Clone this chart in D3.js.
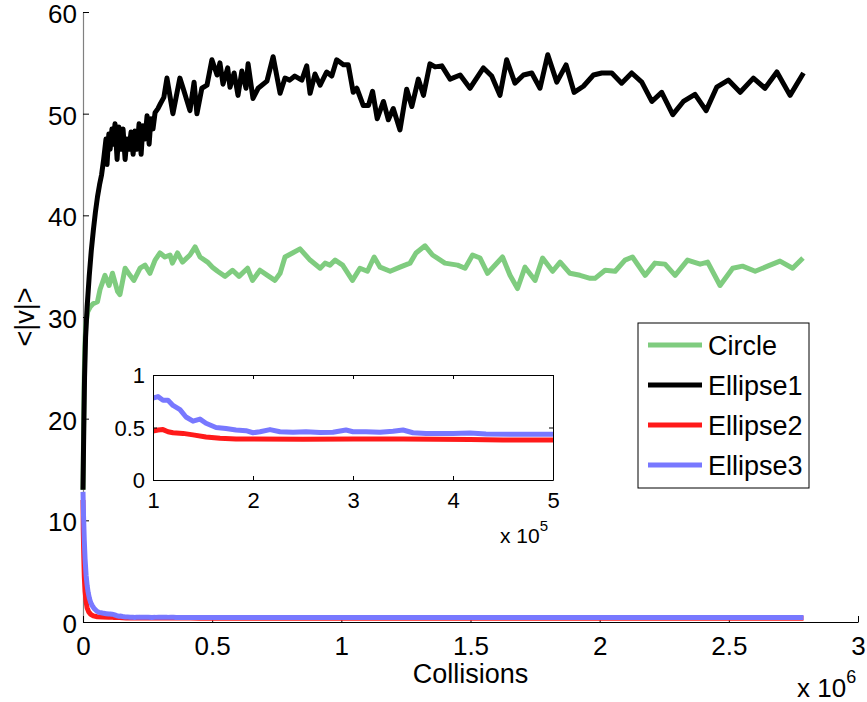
<!DOCTYPE html>
<html>
<head>
<meta charset="utf-8">
<script src="https://cdnjs.cloudflare.com/ajax/libs/d3/7.8.5/d3.min.js"></script>
<style>
  body { margin: 0; background: #fff; }
  text { font-family: "Liberation Sans", Arial, sans-serif; fill: #000; }
</style>
</head>
<body>
<svg id="chart" width="867" height="702"></svg>
<script>
// collisions are in units of 10^6, values are <|v|>
const seriesNames = ["Circle", "Ellipse1", "Ellipse2", "Ellipse3"];
const seriesColors = ["#7fcc7f", "#000000", "#ff1a1a", "#7878ff"];

const circleX = [0, 0.002, 0.004, 0.007, 0.011, 0.018, 0.028, 0.039, 0.056, 0.066,
  0.085, 0.101, 0.114, 0.134, 0.143, 0.163, 0.182, 0.197, 0.221, 0.24,
  0.259, 0.279, 0.298, 0.317, 0.337, 0.346, 0.366, 0.385, 0.414, 0.434,
  0.453, 0.482, 0.501, 0.521, 0.55, 0.579, 0.604, 0.637, 0.656, 0.685,
  0.714, 0.743, 0.763, 0.782, 0.811, 0.84, 0.879, 0.918, 0.937, 0.956,
  0.976, 1.005, 1.043, 1.072, 1.101, 1.127, 1.15, 1.189, 1.227, 1.266,
  1.289, 1.324, 1.353, 1.401, 1.45, 1.479, 1.508, 1.537, 1.566, 1.624,
  1.653, 1.682, 1.711, 1.75, 1.779, 1.818, 1.847, 1.885, 1.924, 1.963,
  1.982, 2.021, 2.06, 2.098, 2.127, 2.176, 2.214, 2.253, 2.292, 2.34,
  2.389, 2.418, 2.466, 2.515, 2.553, 2.602, 2.65, 2.698, 2.747, 2.787];
const circleV = [13, 18, 23, 27, 29.3, 30.5, 31, 31.3, 31.5, 32.7,
  34.1, 33.1, 34.3, 32.5, 32.2, 34.8, 34.1, 33.6, 34.8, 35.1,
  34.3, 35.6, 36.3, 35.9, 36.1, 35.3, 36.3, 35.4, 36.1, 36.9,
  35.9, 35.4, 34.9, 34.5, 34, 34.6, 34, 34.8, 33.6, 34.6,
  34.1, 33.6, 34.3, 35.9, 36.3, 36.7, 35.6, 34.8, 35.3, 35.1,
  35.6, 35.1, 33.6, 34.8, 34.5, 35.9, 34.9, 34.5, 34.9, 35.3,
  36.3, 37, 36.1, 35.3, 35.1, 34.8, 36.1, 35.8, 34.3, 35.9,
  34.1, 32.8, 34.9, 33.6, 35.8, 34.5, 35.4, 34.3, 34.1, 33.8,
  33.8, 34.6, 34.5, 35.6, 35.9, 34.1, 35.3, 35.2, 34.1, 35.6,
  35.2, 35.4, 33.1, 34.8, 35, 34.5, 35, 35.5, 34.8, 35.8];

const ellipse1X = [0, 0.003, 0.006, 0.01, 0.016, 0.024, 0.032, 0.04, 0.048, 0.056,
  0.064, 0.072, 0.08, 0.089, 0.093, 0.1, 0.105, 0.112, 0.116, 0.124,
  0.132, 0.139, 0.147, 0.155, 0.163, 0.17, 0.178, 0.186, 0.194, 0.201,
  0.209, 0.217, 0.225, 0.232, 0.24, 0.248, 0.256, 0.263, 0.271, 0.279,
  0.29, 0.3, 0.313, 0.325, 0.348, 0.375, 0.39, 0.414, 0.43, 0.441,
  0.46, 0.48, 0.499, 0.519, 0.53, 0.542, 0.56, 0.569, 0.585, 0.6,
  0.615, 0.631, 0.639, 0.658, 0.678, 0.712, 0.736, 0.763, 0.782, 0.8,
  0.82, 0.847, 0.866, 0.879, 0.898, 0.918, 0.943, 0.963, 0.982, 1.008,
  1.027, 1.046, 1.06, 1.085, 1.105, 1.121, 1.139, 1.163, 1.182, 1.201,
  1.227, 1.253, 1.273, 1.298, 1.318, 1.343, 1.363, 1.389, 1.421, 1.46,
  1.498, 1.55, 1.582, 1.614, 1.64, 1.672, 1.705, 1.737, 1.769, 1.799,
  1.834, 1.87, 1.901, 1.937, 1.976, 2.008, 2.047, 2.085, 2.124, 2.163,
  2.202, 2.24, 2.283, 2.324, 2.369, 2.412, 2.453, 2.498, 2.544, 2.595,
  2.64, 2.686, 2.737, 2.789];
const ellipse1V = [13, 19, 24, 28, 31, 34, 36.5, 38.5, 40.3, 41.8,
  43, 44, 45.5, 47.5, 45, 48, 46.5, 48.5, 47, 49,
  45.5, 48.7, 46.5, 48.5, 45.5, 47.5, 46.5, 48.2, 46, 48.3,
  46.5, 49, 46, 48.8, 47.5, 49.8, 47, 49.5, 48.5, 50.1,
  50.5, 51, 51.6, 53.5, 50, 53.5, 52.3, 50.3, 53.1, 50,
  52.5, 52.8, 55.3, 53.8, 55, 52.9, 54.5, 52.6, 54, 51.8,
  54.2, 52.5, 54.9, 51.5, 52.5, 53.2, 55.6, 52, 53.5, 53.3,
  53.7, 53.3, 54.7, 52, 53.9, 52.8, 54.1, 53.7, 55.3, 54.8,
  54.8, 52.1, 52.5, 50.8, 50.8, 52.2, 49.5, 51.2, 49.4, 50.5,
  48.4, 52.4, 50.7, 53.4, 51.8, 54.9, 54.6, 54.7, 53.4, 53.8,
  52.5, 54.5, 53.7, 51.8, 55.3, 53, 53.8, 54, 52.5, 55.8,
  53.1, 54.8, 52.1, 52.7, 53.8, 54, 54, 53, 54, 53.1,
  51.2, 52.1, 49.9, 51.2, 51.9, 50.3, 52.6, 53.3, 52.1, 53.5,
  52.5, 54.1, 51.8, 54];

const ellipse2X = [0, 0.001, 0.003, 0.005, 0.008, 0.012, 0.016, 0.022, 0.03, 0.04,
  0.055, 0.075, 0.1, 0.105, 0.11, 0.115, 0.12, 0.13, 0.14, 0.153,
  0.167, 0.183, 0.2, 0.25, 0.3, 0.35, 0.417, 0.45, 0.5, 0.8,
  1.2, 1.6, 2.0, 2.4, 2.789];
const ellipse2V = [12, 9, 6.5, 4.5, 3, 2, 1.4, 1.0, 0.75, 0.6,
  0.52, 0.49, 0.467, 0.476, 0.48, 0.46, 0.45, 0.444, 0.43, 0.41,
  0.397, 0.39, 0.39, 0.388, 0.39, 0.39, 0.385, 0.38, 0.38, 0.38,
  0.38, 0.38, 0.38, 0.38, 0.38];

const ellipse3X = [0, 0.002, 0.005, 0.008, 0.012, 0.016, 0.02, 0.025, 0.03, 0.036,
  0.044, 0.052, 0.062, 0.075, 0.09, 0.1, 0.105, 0.11, 0.115, 0.12,
  0.127, 0.133, 0.14, 0.147, 0.153, 0.163, 0.173, 0.183, 0.193, 0.2,
  0.207, 0.217, 0.227, 0.24, 0.253, 0.267, 0.28, 0.293, 0.3, 0.313,
  0.327, 0.34, 0.35, 0.36, 0.373, 0.4, 0.417, 0.433, 0.467, 0.5,
  0.7, 1.0, 1.4, 1.8, 2.2, 2.6, 2.789];
const ellipse3V = [12.8, 10.5, 8, 6.2, 4.6, 3.6, 2.9, 2.3, 1.9, 1.6,
  1.3, 1.1, 0.95, 0.88, 0.82, 0.78, 0.794, 0.76, 0.76, 0.71,
  0.67, 0.6, 0.56, 0.58, 0.54, 0.5, 0.49, 0.476, 0.47, 0.45,
  0.46, 0.48, 0.46, 0.455, 0.46, 0.452, 0.455, 0.476, 0.46, 0.46,
  0.455, 0.465, 0.476, 0.45, 0.444, 0.444, 0.447, 0.438, 0.436, 0.435,
  0.44, 0.44, 0.44, 0.45, 0.44, 0.44, 0.44];

const xTicks = [0, 0.5, 1, 1.5, 2, 2.5, 3];
const yTicks = [0, 10, 20, 30, 40, 50, 60];
const insetXTicks = [0.1, 0.2, 0.3, 0.4, 0.5];
const insetYTicks = [0, 0.5, 1];

const series = [
  {xs: circleX, vs: circleV},
  {xs: ellipse1X, vs: ellipse1V},
  {xs: ellipse2X, vs: ellipse2V},
  {xs: ellipse3X, vs: ellipse3V}
].map((s, i) => ({name: seriesNames[i], color: seriesColors[i], points: d3.zip(s.xs, s.vs)}));

const margin = {top: 12, right: 9, bottom: 80, left: 83};
const svg = d3.select("#chart");
const width = +svg.attr("width") - margin.left - margin.right;
const height = +svg.attr("height") - margin.top - margin.bottom;
const g = svg.append("g").attr("transform", `translate(${margin.left},${margin.top})`);

const x = d3.scaleLinear().domain([0, 3]).range([0, width]);
const y = d3.scaleLinear().domain([0, 60]).range([height, 0]);

// axes (MATLAB style, ticks inside)
const yAxis = g.append("g")
  .call(d3.axisLeft(y).tickValues(yTicks).tickSizeInner(-6).tickSizeOuter(0).tickPadding(6));
yAxis.select(".domain").attr("stroke", "#808080").attr("stroke-width", 1.2);
yAxis.selectAll("text").style("font-size", "26px").attr("dy", "0.4em");

const xAxis = g.append("g")
  .attr("transform", `translate(0,${height})`)
  .call(d3.axisBottom(x).tickValues(xTicks).tickSizeInner(-6).tickSizeOuter(0).tickPadding(15)
    .tickFormat(d3.format("")));
xAxis.selectAll("text").style("font-size", "26px");

g.append("text")
  .attr("x", width / 2).attr("y", 671)
  .attr("text-anchor", "middle")
  .style("font-size", "27px")
  .text("Collisions");

const xExp = g.append("text")
  .attr("x", 714).attr("y", 685)
  .style("font-size", "26px");
xExp.append("tspan").text("x 10");
xExp.append("tspan").attr("dy", -14).style("font-size", "18px").text("6");

g.append("text")
  .attr("transform", `translate(${34 - margin.left},${317 - margin.top}) rotate(-90)`)
  .attr("text-anchor", "middle")
  .style("font-size", "27px")
  .text("<|v|>");

const line = d3.line().x(d => x(d[0])).y(d => y(d[1]));

g.selectAll(".series")
  .data(series)
  .join("path")
  .attr("class", "series")
  .attr("fill", "none")
  .attr("stroke", d => d.color)
  .attr("stroke-width", 5)
  .attr("stroke-linejoin", "round")
  .attr("d", d => line(d.points));

// inset
const inset = {left: 153, top: 375, width: 400, height: 105};
const ig = svg.append("g").attr("transform", `translate(${inset.left},${inset.top})`);
const ix = d3.scaleLinear().domain([0.1, 0.5]).range([0, inset.width]);
const iy = d3.scaleLinear().domain([0, 1]).range([inset.height, 0]);

ig.append("rect")
  .attr("width", inset.width).attr("height", inset.height)
  .attr("fill", "#fff");

ig.append("clipPath").attr("id", "insetClip")
  .append("rect").attr("width", inset.width).attr("height", inset.height);

const iline = d3.line().x(d => ix(d[0])).y(d => iy(d[1]));
ig.append("g").attr("clip-path", "url(#insetClip)")
  .selectAll("path")
  .data(series.filter(s => s.name === "Ellipse2" || s.name === "Ellipse3"))
  .join("path")
  .attr("fill", "none")
  .attr("stroke", d => d.color)
  .attr("stroke-width", 5)
  .attr("stroke-linejoin", "round")
  .attr("d", d => iline(d.points));

const ixAxis = ig.append("g").attr("transform", `translate(0,${inset.height})`)
  .call(d3.axisBottom(ix).tickValues(insetXTicks).tickSizeInner(-4).tickSizeOuter(0).tickPadding(12)
    .tickFormat(d => d3.format("")(Math.round(d * 10))));
ixAxis.selectAll("text").style("font-size", "22px");
ig.append("g")
  .call(d3.axisTop(ix).tickValues(insetXTicks).tickSizeInner(-4).tickSizeOuter(0).tickFormat(""));
const iyAxis = ig.append("g")
  .call(d3.axisLeft(iy).tickValues(insetYTicks).tickSizeInner(-4).tickSizeOuter(0).tickPadding(8)
    .tickFormat(d3.format("")));
iyAxis.selectAll("text").style("font-size", "22px").attr("dy", "0.36em");
ig.append("g").attr("transform", `translate(${inset.width},0)`)
  .call(d3.axisRight(iy).tickValues(insetYTicks).tickSizeInner(-4).tickSizeOuter(0).tickFormat(""));
ig.selectAll(".domain").attr("stroke", "#000");

const iExp = ig.append("text")
  .attr("x", 347).attr("y", 168)
  .style("font-size", "21px");
iExp.append("tspan").text("x 10");
iExp.append("tspan").attr("dy", -12).style("font-size", "15px").text("5");

// legend
const legend = svg.append("g").attr("transform", "translate(638,323)");
legend.append("rect")
  .attr("width", 171).attr("height", 165)
  .attr("fill", "#fff").attr("stroke", "#000").attr("stroke-width", 1);
const item = legend.selectAll(".item")
  .data(series)
  .join("g")
  .attr("class", "item")
  .attr("transform", (d, i) => `translate(0,${22 + i * 40})`);
item.append("line")
  .attr("x1", 10).attr("x2", 64)
  .attr("stroke", d => d.color)
  .attr("stroke-width", 5);
item.append("text")
  .attr("x", 70).attr("y", 10)
  .style("font-size", "27px")
  .text(d => d.name);
</script>
</body>
</html>
